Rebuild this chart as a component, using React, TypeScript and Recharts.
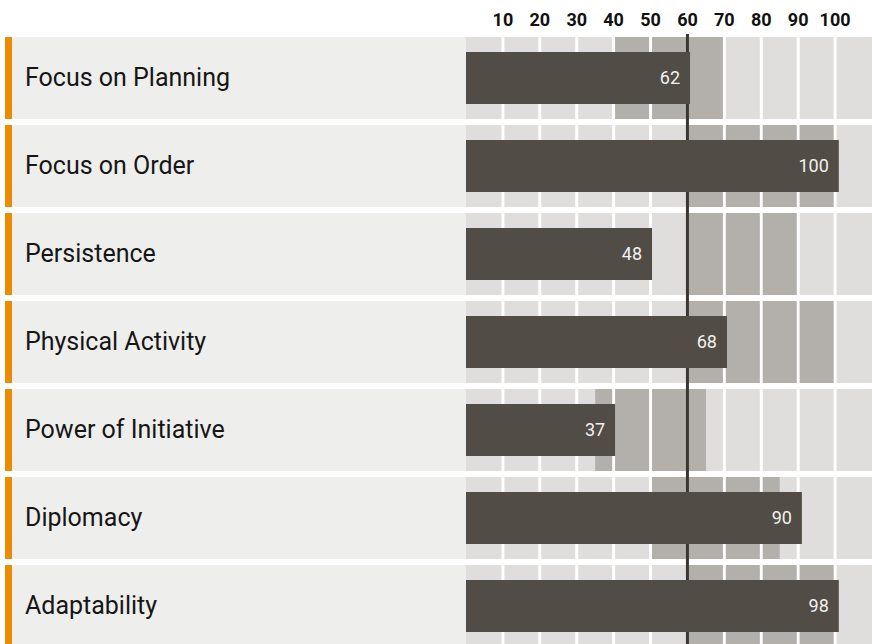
import { BarChart, Bar, XAxis, YAxis, ReferenceArea, ReferenceLine, LabelList } from "recharts";

const traits = [
  "Focus on Planning",
  "Focus on Order",
  "Persistence",
  "Physical Activity",
  "Power of Initiative",
  "Diplomacy",
  "Adaptability",
];
// score printed in the bar
const scores = [62, 100, 48, 68, 37, 90, 98];
// where the dark bar stops
const barEnds = [60.7, 101, 50.4, 70.7, 40.4, 91, 101];
// shaded target range per trait
const rangeLow = [40, 60, 60, 60, 35, 50, 60];
const rangeHigh = [70, 100, 90, 100, 65, 85, 100];
const columnStarts = [0, 10, 20, 30, 40, 50, 60, 70, 80, 90, 100];
const tickValues = [10, 20, 30, 40, 50, 60, 70, 80, 90, 100];
const normLine = 60;

const rows = traits.map((name, i) => ({ name, score: scores[i], barEnd: barEnds[i] }));

const cellShape = (padL: number, padR: number) => (p: any) => (
  <rect
    x={p.x + padL}
    y={p.y + 3}
    width={Math.max(0, p.width - padL - padR)}
    height={Math.max(0, p.height - 6)}
    fill={p.fill}
  />
);

function RowTick(props: any) {
  const { y, payload } = props;
  return (
    <g>
      <rect x={12} y={y - 41} width={454} height={82} fill="#eeeeec" />
      <rect x={5} y={y - 41} width={7} height={82} fill="#ed8b00" />
      <text x={25} y={y} dy="0.33em" fontSize={25} fill="#161616">
        {payload.value}
      </text>
    </g>
  );
}

export default function App() {
  const cells: any[] = [];
  const bands: any[] = [];
  traits.forEach((name, r) => {
    columnStarts.forEach((c, ci) => {
      const last = ci === columnStarts.length - 1;
      cells.push(
        <ReferenceArea
          key={`c-${r}-${ci}`}
          x1={c}
          x2={c + 10}
          y1={name}
          y2={name}
          fill="#dfdedc"
          fillOpacity={1}
          zIndex={100}
          ifOverflow="visible"
          shape={cellShape(ci > 0 ? 1.5 : 0, last ? 0 : 1.5)}
        />
      );
      const lo = Math.max(rangeLow[r], c);
      const hi = Math.min(rangeHigh[r], c + 10);
      if (hi > lo) {
        bands.push(
          <ReferenceArea
            key={`b-${r}-${ci}`}
            x1={lo}
            x2={hi}
            y1={name}
            y2={name}
            fill="#b3afab"
            fillOpacity={1}
            zIndex={110}
            ifOverflow="visible"
            shape={cellShape(lo === c && ci > 0 ? 1.5 : 0, hi === c + 10 && !last ? 1.5 : 0)}
          />
        );
      }
    });
  });

  return (
    <div
      style={{
        position: "fixed",
        left: 0,
        top: 0,
        width: 872,
        height: 644,
        overflow: "hidden",
        background: "#fff",
        fontFamily: "Roboto, sans-serif",
      }}
    >
      <BarChart
        width={872}
        height={650}
        data={rows}
        layout="vertical"
        margin={{ top: 0, right: 0, bottom: 0, left: 0 }}
      >
        <XAxis
          type="number"
          orientation="top"
          domain={[0, 110]}
          ticks={tickValues}
          height={34}
          axisLine={false}
          tickLine={false}
          tickSize={0}
          tickMargin={8}
          tick={{ fill: "#111", fontSize: 18, fontWeight: 700 }}
        />
        <YAxis
          type="category"
          dataKey="name"
          width={466}
          axisLine={false}
          tickLine={false}
          tick={<RowTick />}
        />
        {cells}
        {bands}
        <ReferenceLine x={normLine} stroke="#3b3631" strokeWidth={3} zIndex={200} ifOverflow="visible" />
        <Bar dataKey="barEnd" fill="#514c45" barSize={52} isAnimationActive={false}>
          <LabelList dataKey="score" position="insideRight" offset={10} fill="#f2f1ef" fontSize={18} />
        </Bar>
      </BarChart>
    </div>
  );
}
